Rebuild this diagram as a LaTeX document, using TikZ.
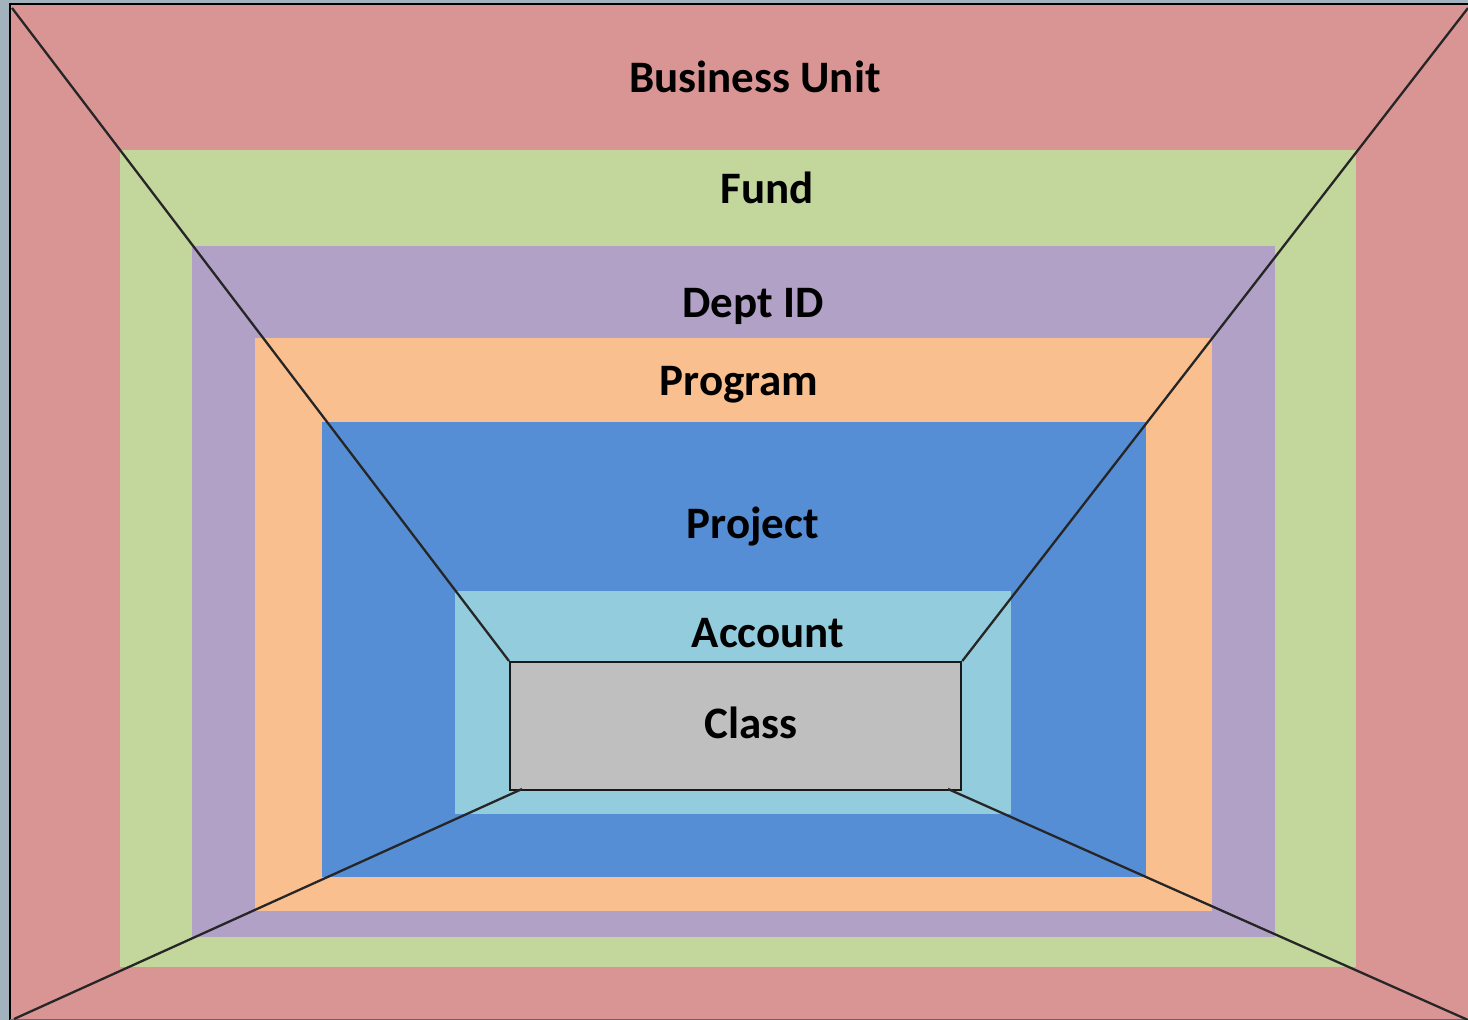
\documentclass[tikz,border=0pt]{standalone}
\usepackage{fontspec}
\setmainfont{Carlito}
\definecolor{bgGray}{HTML}{A3B3BD}
\definecolor{cRed}{HTML}{D99594}
\definecolor{cGreen}{HTML}{C3D69B}
\definecolor{cPurple}{HTML}{B2A1C7}
\definecolor{cOrange}{HTML}{FABF8F}
\definecolor{cBlue}{HTML}{558ED5}
\definecolor{cLightBlue}{HTML}{93CDDD}
\definecolor{cGray}{HTML}{BFBFBF}
\begin{document}
\begin{tikzpicture}[x=1pt,y=-1pt,
  lbl/.style={anchor=base,font=\fontsize{45}{52}\selectfont\bfseries,text=black,inner sep=0pt},
  edge/.style={draw=black!85,line width=2.3pt}]
\useasboundingbox (0,0) rectangle (1468,1020);
% background strip
\fill[bgGray] (0,0) rectangle (1468,1020);
% nested bands
\fill[cRed] (10,4) rectangle (1468,1020);
\fill[cGreen] (120,150) rectangle (1356,967);
\fill[cPurple] (192,246) rectangle (1275,937);
\fill[cOrange] (255,338) rectangle (1212,911);
\fill[cBlue] (322,422) rectangle (1146,877);
\fill[cLightBlue] (455,591) rectangle (1011,814);
% outer frame border
\draw[black,line width=2.2pt] (10,1020) -- (10,4) -- (1468,4);
\draw[black!60,line width=1pt] (10,1019) -- (1468,1019);
% class box
\node[draw=black!90,line width=2.3pt,fill=cGray,minimum width=451pt,minimum height=128pt,inner sep=0pt,anchor=north west] (classbox) at (509,661) {};
% corners
\coordinate (otl) at (12,8);
\coordinate (otr) at (1468,8);
\coordinate (obl) at (14,1019);
\coordinate (obr) at (1468,1020);
\coordinate (ibl) at (522,789);
\coordinate (ibr) at (948,789);
\draw[edge] (otl) -- (classbox.north west);
\draw[edge] (otr) -- (classbox.north east);
\draw[edge] (obl) -- (ibl);
\draw[edge] (obr) -- (ibr);
% labels
\node[lbl] (bu) at (755,92) {Business Unit};
\node[lbl] (fund) at (767,203) {Fund};
\node[lbl] (dept) at (753,317) {Dept ID};
\node[lbl] (prog) at (739,395) {Program};
\node[lbl] (proj) at (753,538) {Project};
\node[lbl] (acct) at (768,647) {Account};
\node[lbl] (cls) at (751,738) {Class};
\end{tikzpicture}
\end{document}
